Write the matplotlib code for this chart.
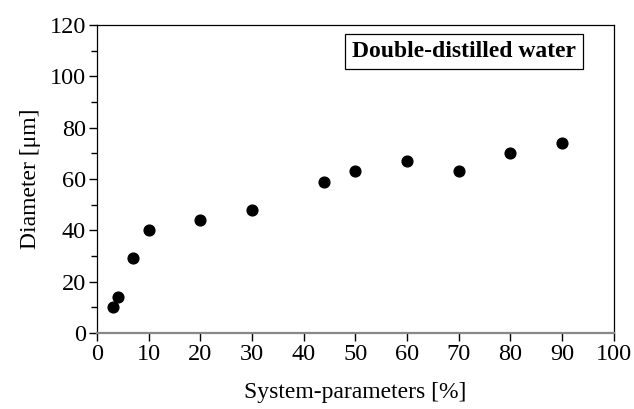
import matplotlib
matplotlib.use("Agg")
import matplotlib.pyplot as plt
from matplotlib.ticker import MultipleLocator

# data
system_params = [3, 4, 7, 10, 20, 30, 44, 50, 60, 70, 80, 90]
diameter = [10, 14, 29, 40, 44, 48, 59, 63, 67, 63, 70, 74]

plt.rcParams["font.family"] = ["Liberation Serif", "DejaVu Serif"]

fig = plt.figure(figsize=(6.34, 4.09), dpi=100)
ax = fig.add_axes([0.153, 0.186, 0.815, 0.753])

ax.scatter(system_params, diameter, s=60, color="black", zorder=3)

ax.set_xlim(0, 100)
ax.set_ylim(0, 120)
ax.xaxis.set_major_locator(MultipleLocator(10))
ax.yaxis.set_major_locator(MultipleLocator(20))
ax.yaxis.set_minor_locator(MultipleLocator(10))
ax.tick_params(axis="both", which="major", direction="out", length=6,
               width=1, labelsize=17.5, top=False, right=False, pad=2)
ax.tick_params(axis="y", which="minor", direction="out", length=4, width=1)
ax.tick_params(axis="x", which="minor", bottom=False)

for side in ["top", "right", "left"]:
    ax.spines[side].set_linewidth(0.9)
ax.spines["bottom"].set_color("#888888")
ax.spines["bottom"].set_linewidth(1.6)

ax.set_xlabel("System-parameters [%]", fontsize=17, labelpad=12)
ax.set_ylabel("Diameter [μm]", fontsize=17, labelpad=6)

ax.text(0.71, 0.914, "Double-distilled water", transform=ax.transAxes,
        ha="center", va="center", fontsize=17, fontweight="bold",
        bbox=dict(boxstyle="square,pad=0.3", facecolor="white",
                  edgecolor="black", linewidth=0.9))

fig.savefig("out.png", dpi=100)
